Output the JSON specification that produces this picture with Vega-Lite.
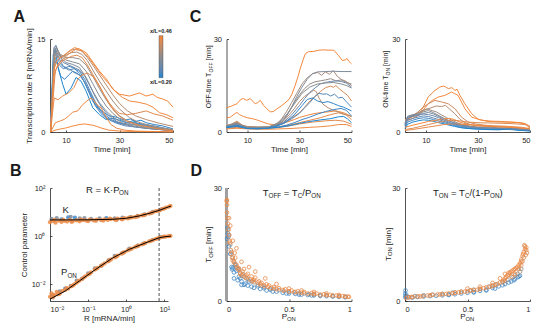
{
"$schema":"https://vega.github.io/schema/vega-lite/v6.json",
"padding":{"left":9,"top":8,"right":14,"bottom":8},
"config":{"font":"Liberation Sans","view":{"stroke":null},
"axis":{"grid":false,"domainColor":"#262626","domainWidth":0.8,"tickColor":"#262626","tickWidth":0.8,"tickSize":-2,"labelFontSize":7.5,"labelColor":"#262626","titleFontSize":8,"titleFontWeight":"normal","titleColor":"#262626"},
"axisX":{"labelPadding":6,"titlePadding":2},
"axisY":{"labelPadding":7,"titlePadding":3},
"text":{"color":"#1a1a1a"}},
"resolve":{"scale":{"color":"independent"},"legend":{"color":"independent"}},
"datasets":{
"A":[
{"s":"a1","c":0.2,"t":4.2,"v":0},{"s":"a1","c":0.2,"t":5.2,"v":12.5},{"s":"a1","c":0.2,"t":6,"v":13.2},{"s":"a1","c":0.2,"t":7,"v":10.4},{"s":"a1","c":0.2,"t":8.75,"v":7.7},{"s":"a1","c":0.2,"t":10,"v":6.1},{"s":"a1","c":0.2,"t":11.9,"v":7.1},{"s":"a1","c":0.2,"t":13.75,"v":8.8},{"s":"a1","c":0.2,"t":15.6,"v":8.2},{"s":"a1","c":0.2,"t":17.5,"v":6.6},{"s":"a1","c":0.2,"t":20,"v":3.9},{"s":"a1","c":0.2,"t":22.5,"v":2.8},{"s":"a1","c":0.2,"t":25,"v":2},{"s":"a1","c":0.2,"t":27.5,"v":2.2},{"s":"a1","c":0.2,"t":30,"v":1.9},{"s":"a1","c":0.2,"t":32.5,"v":1.5},{"s":"a1","c":0.2,"t":35,"v":1.8},{"s":"a1","c":0.2,"t":37.5,"v":1.2},{"s":"a1","c":0.2,"t":40,"v":1.1},{"s":"a1","c":0.2,"t":43.75,"v":0.7},{"s":"a1","c":0.2,"t":47,"v":0.5},{"s":"a1","c":0.2,"t":50,"v":0.3},
{"s":"a2","c":0.21,"t":4.2,"v":0},{"s":"a2","c":0.21,"t":5.3,"v":11},{"s":"a2","c":0.21,"t":6,"v":12},{"s":"a2","c":0.21,"t":7,"v":10.5},{"s":"a2","c":0.21,"t":8,"v":9},{"s":"a2","c":0.21,"t":9.5,"v":8.5},{"s":"a2","c":0.21,"t":11,"v":9.2},{"s":"a2","c":0.21,"t":12.5,"v":9.8},{"s":"a2","c":0.21,"t":14,"v":9.5},{"s":"a2","c":0.21,"t":16,"v":8.8},{"s":"a2","c":0.21,"t":18,"v":7},{"s":"a2","c":0.21,"t":20,"v":5},{"s":"a2","c":0.21,"t":22,"v":3.8},{"s":"a2","c":0.21,"t":24,"v":3.2},{"s":"a2","c":0.21,"t":26,"v":2.6},{"s":"a2","c":0.21,"t":28,"v":2.5},{"s":"a2","c":0.21,"t":30,"v":2.2},{"s":"a2","c":0.21,"t":32,"v":1.9},{"s":"a2","c":0.21,"t":34,"v":2.1},{"s":"a2","c":0.21,"t":36,"v":1.7},{"s":"a2","c":0.21,"t":38,"v":1.9},{"s":"a2","c":0.21,"t":40,"v":1.5},{"s":"a2","c":0.21,"t":43,"v":1.2},{"s":"a2","c":0.21,"t":46,"v":1},{"s":"a2","c":0.21,"t":50,"v":0.5},
{"s":"a3","c":0.22,"t":4.2,"v":0},{"s":"a3","c":0.22,"t":5.3,"v":10},{"s":"a3","c":0.22,"t":6.2,"v":11.5},{"s":"a3","c":0.22,"t":7.5,"v":10.8},{"s":"a3","c":0.22,"t":9,"v":10.2},{"s":"a3","c":0.22,"t":11,"v":10.6},{"s":"a3","c":0.22,"t":13,"v":10.3},{"s":"a3","c":0.22,"t":15,"v":9.4},{"s":"a3","c":0.22,"t":17,"v":8},{"s":"a3","c":0.22,"t":19,"v":6},{"s":"a3","c":0.22,"t":21,"v":4.2},{"s":"a3","c":0.22,"t":23,"v":3},{"s":"a3","c":0.22,"t":25,"v":2.2},{"s":"a3","c":0.22,"t":27,"v":1.8},{"s":"a3","c":0.22,"t":29,"v":1.5},{"s":"a3","c":0.22,"t":31,"v":1.3},{"s":"a3","c":0.22,"t":34,"v":1.6},{"s":"a3","c":0.22,"t":37,"v":1.4},{"s":"a3","c":0.22,"t":40,"v":1.2},{"s":"a3","c":0.22,"t":44,"v":0.9},{"s":"a3","c":0.22,"t":47,"v":0.6},{"s":"a3","c":0.22,"t":50,"v":0.3},
{"s":"a4","c":0.23,"t":4.2,"v":0},{"s":"a4","c":0.23,"t":5.4,"v":12},{"s":"a4","c":0.23,"t":6.2,"v":13},{"s":"a4","c":0.23,"t":7.5,"v":11.2},{"s":"a4","c":0.23,"t":9,"v":10.5},{"s":"a4","c":0.23,"t":11,"v":10},{"s":"a4","c":0.23,"t":13,"v":10.2},{"s":"a4","c":0.23,"t":15,"v":9.8},{"s":"a4","c":0.23,"t":17,"v":8.5},{"s":"a4","c":0.23,"t":19,"v":6.6},{"s":"a4","c":0.23,"t":21,"v":4.8},{"s":"a4","c":0.23,"t":23,"v":3.5},{"s":"a4","c":0.23,"t":25,"v":2.6},{"s":"a4","c":0.23,"t":27,"v":2},{"s":"a4","c":0.23,"t":29,"v":1.6},{"s":"a4","c":0.23,"t":32,"v":1.2},{"s":"a4","c":0.23,"t":35,"v":1.3},{"s":"a4","c":0.23,"t":38,"v":1},{"s":"a4","c":0.23,"t":42,"v":0.8},{"s":"a4","c":0.23,"t":46,"v":0.5},{"s":"a4","c":0.23,"t":50,"v":0.3},
{"s":"a5","c":0.25,"t":4.2,"v":0},{"s":"a5","c":0.25,"t":5.4,"v":13},{"s":"a5","c":0.25,"t":6.1,"v":13.5},{"s":"a5","c":0.25,"t":7.5,"v":11.8},{"s":"a5","c":0.25,"t":9,"v":10.6},{"s":"a5","c":0.25,"t":11,"v":10.2},{"s":"a5","c":0.25,"t":13,"v":9.6},{"s":"a5","c":0.25,"t":15,"v":9.2},{"s":"a5","c":0.25,"t":17,"v":8},{"s":"a5","c":0.25,"t":19,"v":6.3},{"s":"a5","c":0.25,"t":21,"v":4.6},{"s":"a5","c":0.25,"t":23,"v":3.3},{"s":"a5","c":0.25,"t":25,"v":2.4},{"s":"a5","c":0.25,"t":27,"v":1.8},{"s":"a5","c":0.25,"t":29,"v":1.4},{"s":"a5","c":0.25,"t":32,"v":1},{"s":"a5","c":0.25,"t":36,"v":0.8},{"s":"a5","c":0.25,"t":40,"v":0.6},{"s":"a5","c":0.25,"t":45,"v":0.4},{"s":"a5","c":0.25,"t":50,"v":0.2},
{"s":"a6","c":0.27,"t":4.2,"v":0},{"s":"a6","c":0.27,"t":5.5,"v":13.6},{"s":"a6","c":0.27,"t":6.2,"v":14},{"s":"a6","c":0.27,"t":7.5,"v":12.5},{"s":"a6","c":0.27,"t":9,"v":11.2},{"s":"a6","c":0.27,"t":11,"v":10.8},{"s":"a6","c":0.27,"t":13,"v":10.4},{"s":"a6","c":0.27,"t":15,"v":10},{"s":"a6","c":0.27,"t":17,"v":9},{"s":"a6","c":0.27,"t":19,"v":7.4},{"s":"a6","c":0.27,"t":21,"v":5.6},{"s":"a6","c":0.27,"t":23,"v":4.2},{"s":"a6","c":0.27,"t":25,"v":3.1},{"s":"a6","c":0.27,"t":27,"v":2.3},{"s":"a6","c":0.27,"t":29,"v":1.7},{"s":"a6","c":0.27,"t":32,"v":1.2},{"s":"a6","c":0.27,"t":36,"v":0.8},{"s":"a6","c":0.27,"t":40,"v":0.6},{"s":"a6","c":0.27,"t":45,"v":0.4},{"s":"a6","c":0.27,"t":50,"v":0.2},
{"s":"a7","c":0.3,"t":4.2,"v":0},{"s":"a7","c":0.3,"t":5.5,"v":13.5},{"s":"a7","c":0.3,"t":6.3,"v":13.8},{"s":"a7","c":0.3,"t":8,"v":12},{"s":"a7","c":0.3,"t":10,"v":11.2},{"s":"a7","c":0.3,"t":12.5,"v":10.9},{"s":"a7","c":0.3,"t":15,"v":10.4},{"s":"a7","c":0.3,"t":17.5,"v":8.8},{"s":"a7","c":0.3,"t":20,"v":6.6},{"s":"a7","c":0.3,"t":22.5,"v":4.7},{"s":"a7","c":0.3,"t":25,"v":3.4},{"s":"a7","c":0.3,"t":27.5,"v":2.4},{"s":"a7","c":0.3,"t":31,"v":1.5},{"s":"a7","c":0.3,"t":35,"v":1},{"s":"a7","c":0.3,"t":40,"v":0.6},{"s":"a7","c":0.3,"t":45,"v":0.4},{"s":"a7","c":0.3,"t":50,"v":0.3},
{"s":"a8","c":0.32,"t":4.2,"v":0},{"s":"a8","c":0.32,"t":5.6,"v":13},{"s":"a8","c":0.32,"t":6.4,"v":13.6},{"s":"a8","c":0.32,"t":8,"v":12.3},{"s":"a8","c":0.32,"t":10,"v":11.6},{"s":"a8","c":0.32,"t":12.5,"v":11.3},{"s":"a8","c":0.32,"t":15,"v":11},{"s":"a8","c":0.32,"t":17.5,"v":9.8},{"s":"a8","c":0.32,"t":20,"v":7.8},{"s":"a8","c":0.32,"t":22.5,"v":5.8},{"s":"a8","c":0.32,"t":25,"v":4.2},{"s":"a8","c":0.32,"t":27.5,"v":3},{"s":"a8","c":0.32,"t":30,"v":2.1},{"s":"a8","c":0.32,"t":34,"v":1.3},{"s":"a8","c":0.32,"t":38,"v":0.9},{"s":"a8","c":0.32,"t":44,"v":0.5},{"s":"a8","c":0.32,"t":50,"v":0.3},
{"s":"a9","c":0.34,"t":4.2,"v":0},{"s":"a9","c":0.34,"t":5.6,"v":12.5},{"s":"a9","c":0.34,"t":6.5,"v":13.2},{"s":"a9","c":0.34,"t":8,"v":12.5},{"s":"a9","c":0.34,"t":10,"v":12},{"s":"a9","c":0.34,"t":12.5,"v":12},{"s":"a9","c":0.34,"t":15,"v":11.8},{"s":"a9","c":0.34,"t":17.5,"v":10.8},{"s":"a9","c":0.34,"t":20,"v":9},{"s":"a9","c":0.34,"t":22.5,"v":7},{"s":"a9","c":0.34,"t":25,"v":5.2},{"s":"a9","c":0.34,"t":27.5,"v":3.7},{"s":"a9","c":0.34,"t":30,"v":2.6},{"s":"a9","c":0.34,"t":33,"v":1.8},{"s":"a9","c":0.34,"t":37,"v":1.2},{"s":"a9","c":0.34,"t":42,"v":0.8},{"s":"a9","c":0.34,"t":46,"v":0.5},{"s":"a9","c":0.34,"t":50,"v":0.3},
{"s":"a10","c":0.36,"t":4.2,"v":0},{"s":"a10","c":0.36,"t":5.7,"v":12},{"s":"a10","c":0.36,"t":6.5,"v":12.8},{"s":"a10","c":0.36,"t":8,"v":12.2},{"s":"a10","c":0.36,"t":10,"v":12.4},{"s":"a10","c":0.36,"t":12,"v":12.8},{"s":"a10","c":0.36,"t":14,"v":12.9},{"s":"a10","c":0.36,"t":16,"v":12.5},{"s":"a10","c":0.36,"t":18,"v":11.5},{"s":"a10","c":0.36,"t":20,"v":10},{"s":"a10","c":0.36,"t":22.5,"v":8.2},{"s":"a10","c":0.36,"t":25,"v":6.6},{"s":"a10","c":0.36,"t":27.5,"v":5},{"s":"a10","c":0.36,"t":30,"v":3.7},{"s":"a10","c":0.36,"t":33.75,"v":2.3},{"s":"a10","c":0.36,"t":37,"v":1.6},{"s":"a10","c":0.36,"t":40,"v":1.2},{"s":"a10","c":0.36,"t":45,"v":0.7},{"s":"a10","c":0.36,"t":50,"v":0.4},
{"s":"a11","c":0.38,"t":4.2,"v":0},{"s":"a11","c":0.38,"t":5.7,"v":11.5},{"s":"a11","c":0.38,"t":6.5,"v":12.3},{"s":"a11","c":0.38,"t":8,"v":12},{"s":"a11","c":0.38,"t":10,"v":12.6},{"s":"a11","c":0.38,"t":12,"v":13.2},{"s":"a11","c":0.38,"t":14,"v":13.4},{"s":"a11","c":0.38,"t":16,"v":13},{"s":"a11","c":0.38,"t":18,"v":12},{"s":"a11","c":0.38,"t":20,"v":10.8},{"s":"a11","c":0.38,"t":22.5,"v":9.2},{"s":"a11","c":0.38,"t":25,"v":7.6},{"s":"a11","c":0.38,"t":27.5,"v":6},{"s":"a11","c":0.38,"t":30,"v":4.6},{"s":"a11","c":0.38,"t":33,"v":3.4},{"s":"a11","c":0.38,"t":36,"v":2.6},{"s":"a11","c":0.38,"t":40,"v":2},{"s":"a11","c":0.38,"t":45,"v":1.4},{"s":"a11","c":0.38,"t":50,"v":0.9},
{"s":"a12","c":0.46,"t":4.2,"v":0},{"s":"a12","c":0.46,"t":5.5,"v":10},{"s":"a12","c":0.46,"t":6.5,"v":11.5},{"s":"a12","c":0.46,"t":8.75,"v":12.2},{"s":"a12","c":0.46,"t":11,"v":13},{"s":"a12","c":0.46,"t":13.1,"v":13.6},{"s":"a12","c":0.46,"t":15,"v":13.4},{"s":"a12","c":0.46,"t":17.5,"v":12.8},{"s":"a12","c":0.46,"t":20,"v":11.3},{"s":"a12","c":0.46,"t":22.5,"v":9.8},{"s":"a12","c":0.46,"t":25,"v":8.6},{"s":"a12","c":0.46,"t":27.5,"v":6.9},{"s":"a12","c":0.46,"t":30,"v":6.1},{"s":"a12","c":0.46,"t":33.75,"v":5.8},{"s":"a12","c":0.46,"t":37.5,"v":6.3},{"s":"a12","c":0.46,"t":40,"v":5.8},{"s":"a12","c":0.46,"t":42.5,"v":6.1},{"s":"a12","c":0.46,"t":44,"v":5.6},{"s":"a12","c":0.46,"t":46.25,"v":5.3},{"s":"a12","c":0.46,"t":48,"v":5},{"s":"a12","c":0.46,"t":50,"v":4},
{"s":"a13","c":0.45,"t":4.2,"v":0},{"s":"a13","c":0.45,"t":5.5,"v":9},{"s":"a13","c":0.45,"t":7,"v":11},{"s":"a13","c":0.45,"t":9,"v":11.8},{"s":"a13","c":0.45,"t":11,"v":12.6},{"s":"a13","c":0.45,"t":13.5,"v":13.3},{"s":"a13","c":0.45,"t":16,"v":13.1},{"s":"a13","c":0.45,"t":18.5,"v":12},{"s":"a13","c":0.45,"t":21,"v":10.5},{"s":"a13","c":0.45,"t":23.5,"v":9},{"s":"a13","c":0.45,"t":26,"v":7.8},{"s":"a13","c":0.45,"t":28.5,"v":6.5},{"s":"a13","c":0.45,"t":31,"v":5.6},{"s":"a13","c":0.45,"t":33.75,"v":5},{"s":"a13","c":0.45,"t":37,"v":4.8},{"s":"a13","c":0.45,"t":40,"v":4.5},{"s":"a13","c":0.45,"t":42.5,"v":4},{"s":"a13","c":0.45,"t":45,"v":3.1},{"s":"a13","c":0.45,"t":47.5,"v":2.8},{"s":"a13","c":0.45,"t":50,"v":2.3},
{"s":"a14","c":0.43,"t":4.2,"v":0},{"s":"a14","c":0.43,"t":6,"v":10},{"s":"a14","c":0.43,"t":8,"v":11.2},{"s":"a14","c":0.43,"t":10,"v":11.8},{"s":"a14","c":0.43,"t":12,"v":12.2},{"s":"a14","c":0.43,"t":14,"v":12.4},{"s":"a14","c":0.43,"t":16,"v":12},{"s":"a14","c":0.43,"t":18,"v":10.8},{"s":"a14","c":0.43,"t":20,"v":9.3},{"s":"a14","c":0.43,"t":22,"v":7.8},{"s":"a14","c":0.43,"t":24,"v":6.2},{"s":"a14","c":0.43,"t":26,"v":4.8},{"s":"a14","c":0.43,"t":28,"v":3.7},{"s":"a14","c":0.43,"t":30,"v":3},{"s":"a14","c":0.43,"t":33,"v":2.8},{"s":"a14","c":0.43,"t":36,"v":3},{"s":"a14","c":0.43,"t":40,"v":3.4},{"s":"a14","c":0.43,"t":43,"v":2.9},{"s":"a14","c":0.43,"t":46,"v":2.6},{"s":"a14","c":0.43,"t":50,"v":1.9},
{"s":"a15","c":0.44,"t":4.2,"v":0},{"s":"a15","c":0.44,"t":5.3,"v":4.5},{"s":"a15","c":0.44,"t":5.6,"v":5.5},{"s":"a15","c":0.44,"t":7,"v":5.2},{"s":"a15","c":0.44,"t":8.75,"v":5.8},{"s":"a15","c":0.44,"t":11,"v":6.3},{"s":"a15","c":0.44,"t":13,"v":7.2},{"s":"a15","c":0.44,"t":14.4,"v":8.5},{"s":"a15","c":0.44,"t":16,"v":9.2},{"s":"a15","c":0.44,"t":18,"v":9.5},{"s":"a15","c":0.44,"t":20,"v":9},{"s":"a15","c":0.44,"t":22,"v":7.8},{"s":"a15","c":0.44,"t":24,"v":6.2},{"s":"a15","c":0.44,"t":26,"v":4.6},{"s":"a15","c":0.44,"t":28,"v":3.4},{"s":"a15","c":0.44,"t":30,"v":2.5},{"s":"a15","c":0.44,"t":33,"v":1.7},{"s":"a15","c":0.44,"t":37,"v":1.1},{"s":"a15","c":0.44,"t":42,"v":0.7},{"s":"a15","c":0.44,"t":46,"v":0.4},{"s":"a15","c":0.44,"t":50,"v":0.2},
{"s":"a16","c":0.45,"t":4.2,"v":0},{"s":"a16","c":0.45,"t":6,"v":1.5},{"s":"a16","c":0.45,"t":8,"v":1.8},{"s":"a16","c":0.45,"t":9.4,"v":2.05},{"s":"a16","c":0.45,"t":11,"v":2.6},{"s":"a16","c":0.45,"t":12.5,"v":3.2},{"s":"a16","c":0.45,"t":14.4,"v":3.4},{"s":"a16","c":0.45,"t":16,"v":4.3},{"s":"a16","c":0.45,"t":17.5,"v":4.9},{"s":"a16","c":0.45,"t":19.4,"v":5.5},{"s":"a16","c":0.45,"t":20.5,"v":5},{"s":"a16","c":0.45,"t":22,"v":4.2},{"s":"a16","c":0.45,"t":23.1,"v":3.9},{"s":"a16","c":0.45,"t":25,"v":2.4},{"s":"a16","c":0.45,"t":26.8,"v":1.2},{"s":"a16","c":0.45,"t":29,"v":0.6},{"s":"a16","c":0.45,"t":32,"v":0.3},{"s":"a16","c":0.45,"t":36,"v":0.15},{"s":"a16","c":0.45,"t":40,"v":0.1},{"s":"a16","c":0.45,"t":50,"v":0.05},
{"s":"a17","c":0.46,"t":4.2,"v":0},{"s":"a17","c":0.46,"t":6,"v":0.3},{"s":"a17","c":0.46,"t":8,"v":0.5},{"s":"a17","c":0.46,"t":9.9,"v":0.65},{"s":"a17","c":0.46,"t":12,"v":0.9},{"s":"a17","c":0.46,"t":14.9,"v":1.2},{"s":"a17","c":0.46,"t":17,"v":1.3},{"s":"a17","c":0.46,"t":19.9,"v":1.1},{"s":"a17","c":0.46,"t":21.5,"v":0.9},{"s":"a17","c":0.46,"t":23.1,"v":0.65},{"s":"a17","c":0.46,"t":26,"v":0.3},{"s":"a17","c":0.46,"t":30,"v":0.15},{"s":"a17","c":0.46,"t":35,"v":0.08},{"s":"a17","c":0.46,"t":50,"v":0.03}
],
"C1":[
{"s":"c1","c":0.46,"t":2,"v":7.8},{"s":"c1","c":0.46,"t":4,"v":8.4},{"s":"c1","c":0.46,"t":6,"v":9.1},{"s":"c1","c":0.46,"t":7.5,"v":10.5},{"s":"c1","c":0.46,"t":8.5,"v":10.8},{"s":"c1","c":0.46,"t":9.8,"v":10.2},{"s":"c1","c":0.46,"t":11.1,"v":10.8},{"s":"c1","c":0.46,"t":12,"v":10},{"s":"c1","c":0.46,"t":13,"v":9.1},{"s":"c1","c":0.46,"t":14,"v":9.5},{"s":"c1","c":0.46,"t":15,"v":10.2},{"s":"c1","c":0.46,"t":16.2,"v":8.6},{"s":"c1","c":0.46,"t":17.5,"v":7.5},{"s":"c1","c":0.46,"t":18.8,"v":6.5},{"s":"c1","c":0.46,"t":20,"v":6.6},{"s":"c1","c":0.46,"t":21.4,"v":7.5},{"s":"c1","c":0.46,"t":23,"v":8.4},{"s":"c1","c":0.46,"t":24.5,"v":9.4},{"s":"c1","c":0.46,"t":26,"v":10.5},{"s":"c1","c":0.46,"t":27,"v":12},{"s":"c1","c":0.46,"t":28.4,"v":15.1},{"s":"c1","c":0.46,"t":29.5,"v":18},{"s":"c1","c":0.46,"t":30.3,"v":20.4},{"s":"c1","c":0.46,"t":31.5,"v":23.5},{"s":"c1","c":0.46,"t":32.3,"v":25.3},{"s":"c1","c":0.46,"t":33.5,"v":25.9},{"s":"c1","c":0.46,"t":35.5,"v":26},{"s":"c1","c":0.46,"t":37.5,"v":26.4},{"s":"c1","c":0.46,"t":39.3,"v":26.5},{"s":"c1","c":0.46,"t":41,"v":26.4},{"s":"c1","c":0.46,"t":43.2,"v":26.4},{"s":"c1","c":0.46,"t":45,"v":24.7},{"s":"c1","c":0.46,"t":46.4,"v":23.1},{"s":"c1","c":0.46,"t":47.5,"v":23.2},{"s":"c1","c":0.46,"t":48.3,"v":23.7},{"s":"c1","c":0.46,"t":49,"v":22.8},{"s":"c1","c":0.46,"t":50,"v":22},
{"s":"c2","c":0.45,"t":2,"v":4.5},{"s":"c2","c":0.45,"t":3.5,"v":4.8},{"s":"c2","c":0.45,"t":5,"v":5.8},{"s":"c2","c":0.45,"t":6,"v":6.3},{"s":"c2","c":0.45,"t":7,"v":5.6},{"s":"c2","c":0.45,"t":8.5,"v":5},{"s":"c2","c":0.45,"t":10,"v":4.6},{"s":"c2","c":0.45,"t":12,"v":4.3},{"s":"c2","c":0.45,"t":14,"v":3.8},{"s":"c2","c":0.45,"t":16,"v":3.2},{"s":"c2","c":0.45,"t":18,"v":2.6},{"s":"c2","c":0.45,"t":20,"v":2.4},{"s":"c2","c":0.45,"t":22,"v":2.5},{"s":"c2","c":0.45,"t":24,"v":2.9},{"s":"c2","c":0.45,"t":26,"v":3.4},{"s":"c2","c":0.45,"t":28,"v":4},{"s":"c2","c":0.45,"t":30,"v":4.7},{"s":"c2","c":0.45,"t":33,"v":5.4},{"s":"c2","c":0.45,"t":36,"v":6},{"s":"c2","c":0.45,"t":40,"v":6.4},{"s":"c2","c":0.45,"t":44,"v":6.8},{"s":"c2","c":0.45,"t":47,"v":6.2},{"s":"c2","c":0.45,"t":50,"v":5},
{"s":"c3","c":0.44,"t":2,"v":1.5},{"s":"c3","c":0.44,"t":4,"v":1.9},{"s":"c3","c":0.44,"t":6,"v":2.4},{"s":"c3","c":0.44,"t":8,"v":1.8},{"s":"c3","c":0.44,"t":10,"v":1.4},{"s":"c3","c":0.44,"t":14,"v":1.3},{"s":"c3","c":0.44,"t":18,"v":1.4},{"s":"c3","c":0.44,"t":22,"v":1.7},{"s":"c3","c":0.44,"t":26,"v":2.2},{"s":"c3","c":0.44,"t":30,"v":3},{"s":"c3","c":0.44,"t":34,"v":3.8},{"s":"c3","c":0.44,"t":38,"v":4.6},{"s":"c3","c":0.44,"t":42,"v":5.6},{"s":"c3","c":0.44,"t":45,"v":6.2},{"s":"c3","c":0.44,"t":48,"v":5.5},{"s":"c3","c":0.44,"t":50,"v":4},
{"s":"c4","c":0.42,"t":2,"v":2},{"s":"c4","c":0.42,"t":4,"v":2.5},{"s":"c4","c":0.42,"t":6,"v":3.5},{"s":"c4","c":0.42,"t":8,"v":2.2},{"s":"c4","c":0.42,"t":10,"v":1.8},{"s":"c4","c":0.42,"t":14,"v":1.6},{"s":"c4","c":0.42,"t":18,"v":1.6},{"s":"c4","c":0.42,"t":21,"v":2},{"s":"c4","c":0.42,"t":24,"v":3},{"s":"c4","c":0.42,"t":27,"v":4.5},{"s":"c4","c":0.42,"t":30,"v":6.2},{"s":"c4","c":0.42,"t":32,"v":8},{"s":"c4","c":0.42,"t":34,"v":10},{"s":"c4","c":0.42,"t":36,"v":11.5},{"s":"c4","c":0.42,"t":38,"v":13},{"s":"c4","c":0.42,"t":40,"v":14.3},{"s":"c4","c":0.42,"t":42,"v":14.8},{"s":"c4","c":0.42,"t":43,"v":14.4},{"s":"c4","c":0.42,"t":44,"v":15},{"s":"c4","c":0.42,"t":45.5,"v":13.8},{"s":"c4","c":0.42,"t":47,"v":12.8},{"s":"c4","c":0.42,"t":48.5,"v":11.8},{"s":"c4","c":0.42,"t":50,"v":10},
{"s":"c5","c":0.45,"t":2,"v":1},{"s":"c5","c":0.45,"t":6,"v":1.2},{"s":"c5","c":0.45,"t":10,"v":1},{"s":"c5","c":0.45,"t":14,"v":0.9},{"s":"c5","c":0.45,"t":18,"v":0.9},{"s":"c5","c":0.45,"t":22,"v":1},{"s":"c5","c":0.45,"t":26,"v":1.1},{"s":"c5","c":0.45,"t":30,"v":1.3},{"s":"c5","c":0.45,"t":34,"v":1.5},{"s":"c5","c":0.45,"t":38,"v":1.7},{"s":"c5","c":0.45,"t":42,"v":2},{"s":"c5","c":0.45,"t":45,"v":2.4},{"s":"c5","c":0.45,"t":48,"v":2.4},{"s":"c5","c":0.45,"t":50,"v":1.8},
{"s":"c6","c":0.43,"t":2,"v":1.2},{"s":"c6","c":0.43,"t":6,"v":1.5},{"s":"c6","c":0.43,"t":10,"v":1.2},{"s":"c6","c":0.43,"t":15,"v":1.1},{"s":"c6","c":0.43,"t":20,"v":1.3},{"s":"c6","c":0.43,"t":25,"v":1.8},{"s":"c6","c":0.43,"t":30,"v":2.6},{"s":"c6","c":0.43,"t":35,"v":3.2},{"s":"c6","c":0.43,"t":40,"v":3.6},{"s":"c6","c":0.43,"t":44,"v":3.8},{"s":"c6","c":0.43,"t":47,"v":3.5},{"s":"c6","c":0.43,"t":50,"v":2.5},
{"s":"c7","c":0.38,"t":2,"v":2},{"s":"c7","c":0.38,"t":4,"v":2.5},{"s":"c7","c":0.38,"t":6,"v":3},{"s":"c7","c":0.38,"t":8,"v":2},{"s":"c7","c":0.38,"t":10,"v":1.6},{"s":"c7","c":0.38,"t":14,"v":1.5},{"s":"c7","c":0.38,"t":18,"v":1.6},{"s":"c7","c":0.38,"t":21,"v":2.2},{"s":"c7","c":0.38,"t":24,"v":3.6},{"s":"c7","c":0.38,"t":26,"v":5.5},{"s":"c7","c":0.38,"t":28,"v":7.5},{"s":"c7","c":0.38,"t":30,"v":9.8},{"s":"c7","c":0.38,"t":32,"v":11.5},{"s":"c7","c":0.38,"t":34,"v":12.6},{"s":"c7","c":0.38,"t":35.5,"v":13.5},{"s":"c7","c":0.38,"t":36.5,"v":13},{"s":"c7","c":0.38,"t":37.5,"v":11},{"s":"c7","c":0.38,"t":39,"v":9},{"s":"c7","c":0.38,"t":41,"v":7.8},{"s":"c7","c":0.38,"t":43,"v":7},{"s":"c7","c":0.38,"t":45,"v":6.4},{"s":"c7","c":0.38,"t":47,"v":5.8},{"s":"c7","c":0.38,"t":50,"v":5},
{"s":"c8","c":0.36,"t":2,"v":2},{"s":"c8","c":0.36,"t":4,"v":2.6},{"s":"c8","c":0.36,"t":6,"v":3.2},{"s":"c8","c":0.36,"t":8,"v":2.2},{"s":"c8","c":0.36,"t":10,"v":1.6},{"s":"c8","c":0.36,"t":14,"v":1.5},{"s":"c8","c":0.36,"t":18,"v":1.6},{"s":"c8","c":0.36,"t":21,"v":2.5},{"s":"c8","c":0.36,"t":23,"v":4},{"s":"c8","c":0.36,"t":25,"v":6.5},{"s":"c8","c":0.36,"t":27,"v":9.5},{"s":"c8","c":0.36,"t":29,"v":12.5},{"s":"c8","c":0.36,"t":31,"v":15.5},{"s":"c8","c":0.36,"t":33,"v":17.5},{"s":"c8","c":0.36,"t":35,"v":18.8},{"s":"c8","c":0.36,"t":37,"v":19.2},{"s":"c8","c":0.36,"t":38.5,"v":18.3},{"s":"c8","c":0.36,"t":40,"v":19.4},{"s":"c8","c":0.36,"t":41.5,"v":18.6},{"s":"c8","c":0.36,"t":43,"v":19.8},{"s":"c8","c":0.36,"t":44.5,"v":18},{"s":"c8","c":0.36,"t":46,"v":17},{"s":"c8","c":0.36,"t":48,"v":16.3},{"s":"c8","c":0.36,"t":50,"v":15},
{"s":"c9","c":0.34,"t":2,"v":1.8},{"s":"c9","c":0.34,"t":4,"v":2.3},{"s":"c9","c":0.34,"t":6,"v":2.8},{"s":"c9","c":0.34,"t":8,"v":2},{"s":"c9","c":0.34,"t":10,"v":1.5},{"s":"c9","c":0.34,"t":14,"v":1.4},{"s":"c9","c":0.34,"t":18,"v":1.5},{"s":"c9","c":0.34,"t":21,"v":2.2},{"s":"c9","c":0.34,"t":24,"v":4.2},{"s":"c9","c":0.34,"t":26,"v":6.5},{"s":"c9","c":0.34,"t":28,"v":9.5},{"s":"c9","c":0.34,"t":30,"v":12},{"s":"c9","c":0.34,"t":32,"v":14},{"s":"c9","c":0.34,"t":34,"v":15.5},{"s":"c9","c":0.34,"t":36,"v":16.2},{"s":"c9","c":0.34,"t":38,"v":16.5},{"s":"c9","c":0.34,"t":40,"v":16.8},{"s":"c9","c":0.34,"t":42,"v":17.2},{"s":"c9","c":0.34,"t":44,"v":16.5},{"s":"c9","c":0.34,"t":46,"v":16.8},{"s":"c9","c":0.34,"t":48,"v":16},{"s":"c9","c":0.34,"t":50,"v":15.5},
{"s":"c10","c":0.3,"t":2,"v":1.8},{"s":"c10","c":0.3,"t":4,"v":2.2},{"s":"c10","c":0.3,"t":6,"v":2.5},{"s":"c10","c":0.3,"t":8,"v":1.8},{"s":"c10","c":0.3,"t":10,"v":1.4},{"s":"c10","c":0.3,"t":14,"v":1.3},{"s":"c10","c":0.3,"t":18,"v":1.4},{"s":"c10","c":0.3,"t":21,"v":2},{"s":"c10","c":0.3,"t":23,"v":3},{"s":"c10","c":0.3,"t":25,"v":5},{"s":"c10","c":0.3,"t":27,"v":8},{"s":"c10","c":0.3,"t":29,"v":11.5},{"s":"c10","c":0.3,"t":31,"v":14.5},{"s":"c10","c":0.3,"t":33,"v":17},{"s":"c10","c":0.3,"t":35,"v":18.8},{"s":"c10","c":0.3,"t":37,"v":19.4},{"s":"c10","c":0.3,"t":40,"v":19.5},{"s":"c10","c":0.3,"t":43,"v":19.6},{"s":"c10","c":0.3,"t":46,"v":19.5},{"s":"c10","c":0.3,"t":50,"v":19.5},
{"s":"c11","c":0.27,"t":2,"v":1.6},{"s":"c11","c":0.27,"t":6,"v":2.3},{"s":"c11","c":0.27,"t":10,"v":1.3},{"s":"c11","c":0.27,"t":14,"v":1.2},{"s":"c11","c":0.27,"t":18,"v":1.4},{"s":"c11","c":0.27,"t":21,"v":2},{"s":"c11","c":0.27,"t":24,"v":3.2},{"s":"c11","c":0.27,"t":27,"v":5.5},{"s":"c11","c":0.27,"t":30,"v":8.5},{"s":"c11","c":0.27,"t":32,"v":10.8},{"s":"c11","c":0.27,"t":34,"v":12.8},{"s":"c11","c":0.27,"t":36,"v":14.2},{"s":"c11","c":0.27,"t":38,"v":15.5},{"s":"c11","c":0.27,"t":40,"v":16},{"s":"c11","c":0.27,"t":42,"v":16.3},{"s":"c11","c":0.27,"t":44,"v":16.5},{"s":"c11","c":0.27,"t":46,"v":16.3},{"s":"c11","c":0.27,"t":48,"v":15.8},{"s":"c11","c":0.27,"t":50,"v":14.5},
{"s":"c12","c":0.24,"t":2,"v":1.5},{"s":"c12","c":0.24,"t":6,"v":2.1},{"s":"c12","c":0.24,"t":10,"v":1.2},{"s":"c12","c":0.24,"t":14,"v":1.1},{"s":"c12","c":0.24,"t":18,"v":1.3},{"s":"c12","c":0.24,"t":21,"v":1.8},{"s":"c12","c":0.24,"t":24,"v":2.8},{"s":"c12","c":0.24,"t":27,"v":4.2},{"s":"c12","c":0.24,"t":30,"v":6},{"s":"c12","c":0.24,"t":32,"v":7.8},{"s":"c12","c":0.24,"t":34,"v":9.5},{"s":"c12","c":0.24,"t":36,"v":11.5},{"s":"c12","c":0.24,"t":37.5,"v":12.5},{"s":"c12","c":0.24,"t":39,"v":12.2},{"s":"c12","c":0.24,"t":40.5,"v":12.3},{"s":"c12","c":0.24,"t":42,"v":11.6},{"s":"c12","c":0.24,"t":43.5,"v":12.2},{"s":"c12","c":0.24,"t":45,"v":11},{"s":"c12","c":0.24,"t":46.5,"v":11.2},{"s":"c12","c":0.24,"t":48,"v":9.8},{"s":"c12","c":0.24,"t":50,"v":8},
{"s":"c13","c":0.22,"t":2,"v":1.5},{"s":"c13","c":0.22,"t":6,"v":2},{"s":"c13","c":0.22,"t":10,"v":1.2},{"s":"c13","c":0.22,"t":14,"v":1.1},{"s":"c13","c":0.22,"t":18,"v":1.3},{"s":"c13","c":0.22,"t":22,"v":1.6},{"s":"c13","c":0.22,"t":25,"v":2.2},{"s":"c13","c":0.22,"t":28,"v":3},{"s":"c13","c":0.22,"t":31,"v":4},{"s":"c13","c":0.22,"t":34,"v":4.8},{"s":"c13","c":0.22,"t":37,"v":5.8},{"s":"c13","c":0.22,"t":40,"v":6.6},{"s":"c13","c":0.22,"t":43,"v":7.2},{"s":"c13","c":0.22,"t":46,"v":7.6},{"s":"c13","c":0.22,"t":48,"v":7},{"s":"c13","c":0.22,"t":50,"v":5.2},
{"s":"c14","c":0.2,"t":2,"v":1.4},{"s":"c14","c":0.2,"t":6,"v":1.8},{"s":"c14","c":0.2,"t":10,"v":1.1},{"s":"c14","c":0.2,"t":14,"v":1},{"s":"c14","c":0.2,"t":18,"v":1.2},{"s":"c14","c":0.2,"t":22,"v":1.5},{"s":"c14","c":0.2,"t":26,"v":2},{"s":"c14","c":0.2,"t":30,"v":2.8},{"s":"c14","c":0.2,"t":34,"v":3.4},{"s":"c14","c":0.2,"t":38,"v":3.9},{"s":"c14","c":0.2,"t":42,"v":4.3},{"s":"c14","c":0.2,"t":45,"v":4.9},{"s":"c14","c":0.2,"t":47,"v":5},{"s":"c14","c":0.2,"t":48.5,"v":4.2},{"s":"c14","c":0.2,"t":50,"v":3},
{"s":"c15","c":0.21,"t":2,"v":1.6},{"s":"c15","c":0.21,"t":6,"v":2},{"s":"c15","c":0.21,"t":10,"v":1.3},{"s":"c15","c":0.21,"t":15,"v":1.2},{"s":"c15","c":0.21,"t":20,"v":1.6},{"s":"c15","c":0.21,"t":24,"v":2.8},{"s":"c15","c":0.21,"t":28,"v":5.5},{"s":"c15","c":0.21,"t":31,"v":8.5},{"s":"c15","c":0.21,"t":33,"v":10.5},{"s":"c15","c":0.21,"t":35,"v":11},{"s":"c15","c":0.21,"t":37,"v":10},{"s":"c15","c":0.21,"t":39,"v":9.5},{"s":"c15","c":0.21,"t":41,"v":9.8},{"s":"c15","c":0.21,"t":43,"v":9.2},{"s":"c15","c":0.21,"t":45,"v":8.5},{"s":"c15","c":0.21,"t":47,"v":8},{"s":"c15","c":0.21,"t":50,"v":6.8},
{"s":"c16","c":0.32,"t":2,"v":2},{"s":"c16","c":0.32,"t":6,"v":2.8},{"s":"c16","c":0.32,"t":10,"v":1.5},{"s":"c16","c":0.32,"t":18,"v":1.6},{"s":"c16","c":0.32,"t":22,"v":3},{"s":"c16","c":0.32,"t":25,"v":5.5},{"s":"c16","c":0.32,"t":28,"v":9},{"s":"c16","c":0.32,"t":31,"v":12.5},{"s":"c16","c":0.32,"t":34,"v":14.5},{"s":"c16","c":0.32,"t":37,"v":15.5},{"s":"c16","c":0.32,"t":40,"v":15.8},{"s":"c16","c":0.32,"t":43,"v":16},{"s":"c16","c":0.32,"t":46,"v":15.5},{"s":"c16","c":0.32,"t":48,"v":15},{"s":"c16","c":0.32,"t":50,"v":14.2}
],
"C2":[
{"s":"r1","c":0.45,"t":2,"v":4},{"s":"r1","c":0.45,"t":3.2,"v":4.3},{"s":"r1","c":0.45,"t":5,"v":5},{"s":"r1","c":0.45,"t":7.1,"v":5.4},{"s":"r1","c":0.45,"t":9,"v":8},{"s":"r1","c":0.45,"t":10.9,"v":11.3},{"s":"r1","c":0.45,"t":12,"v":12.2},{"s":"r1","c":0.45,"t":13.5,"v":13.4},{"s":"r1","c":0.45,"t":15.4,"v":14.5},{"s":"r1","c":0.45,"t":16.7,"v":14.8},{"s":"r1","c":0.45,"t":17.5,"v":14.6},{"s":"r1","c":0.45,"t":18.6,"v":14},{"s":"r1","c":0.45,"t":20,"v":14.3},{"s":"r1","c":0.45,"t":21.2,"v":13.4},{"s":"r1","c":0.45,"t":22,"v":13.8},{"s":"r1","c":0.45,"t":23.1,"v":11.8},{"s":"r1","c":0.45,"t":25,"v":9.1},{"s":"r1","c":0.45,"t":27.6,"v":5.9},{"s":"r1","c":0.45,"t":30.1,"v":4.1},{"s":"r1","c":0.45,"t":34,"v":3.4},{"s":"r1","c":0.45,"t":39.1,"v":3.2},{"s":"r1","c":0.45,"t":43,"v":3.2},{"s":"r1","c":0.45,"t":46.8,"v":3},{"s":"r1","c":0.45,"t":48.5,"v":2.6},{"s":"r1","c":0.45,"t":50,"v":1.6},
{"s":"r2","c":0.46,"t":2,"v":3.5},{"s":"r2","c":0.46,"t":4,"v":4},{"s":"r2","c":0.46,"t":6,"v":4.8},{"s":"r2","c":0.46,"t":8,"v":6},{"s":"r2","c":0.46,"t":10.9,"v":9.1},{"s":"r2","c":0.46,"t":12.5,"v":10.2},{"s":"r2","c":0.46,"t":14.8,"v":11.3},{"s":"r2","c":0.46,"t":17.3,"v":11.8},{"s":"r2","c":0.46,"t":19.9,"v":12.9},{"s":"r2","c":0.46,"t":21,"v":12.4},{"s":"r2","c":0.46,"t":22.4,"v":11.8},{"s":"r2","c":0.46,"t":23.5,"v":10},{"s":"r2","c":0.46,"t":25,"v":7.5},{"s":"r2","c":0.46,"t":27.6,"v":4.8},{"s":"r2","c":0.46,"t":31.4,"v":3.8},{"s":"r2","c":0.46,"t":35,"v":3.5},{"s":"r2","c":0.46,"t":39,"v":3.4},{"s":"r2","c":0.46,"t":45.5,"v":3},{"s":"r2","c":0.46,"t":48,"v":2.6},{"s":"r2","c":0.46,"t":50,"v":1.3},
{"s":"r3","c":0.41,"t":2,"v":3.5},{"s":"r3","c":0.41,"t":4,"v":4.5},{"s":"r3","c":0.41,"t":7,"v":6.5},{"s":"r3","c":0.41,"t":9,"v":8},{"s":"r3","c":0.41,"t":10.9,"v":9.1},{"s":"r3","c":0.41,"t":13.5,"v":10.2},{"s":"r3","c":0.41,"t":16,"v":9.7},{"s":"r3","c":0.41,"t":18.6,"v":9.1},{"s":"r3","c":0.41,"t":21.2,"v":7.5},{"s":"r3","c":0.41,"t":23.7,"v":4.8},{"s":"r3","c":0.41,"t":26.3,"v":3.2},{"s":"r3","c":0.41,"t":29,"v":2.6},{"s":"r3","c":0.41,"t":32.7,"v":2.2},{"s":"r3","c":0.41,"t":39.1,"v":1.6},{"s":"r3","c":0.41,"t":45,"v":1.3},{"s":"r3","c":0.41,"t":50,"v":0.9},
{"s":"r4","c":0.38,"t":2,"v":3},{"s":"r4","c":0.38,"t":4,"v":5},{"s":"r4","c":0.38,"t":6,"v":5.8},{"s":"r4","c":0.38,"t":8,"v":6.5},{"s":"r4","c":0.38,"t":10,"v":7.2},{"s":"r4","c":0.38,"t":12,"v":7.8},{"s":"r4","c":0.38,"t":14,"v":8.4},{"s":"r4","c":0.38,"t":16,"v":8.2},{"s":"r4","c":0.38,"t":17.5,"v":8.6},{"s":"r4","c":0.38,"t":19,"v":7.5},{"s":"r4","c":0.38,"t":21,"v":6},{"s":"r4","c":0.38,"t":23,"v":4.2},{"s":"r4","c":0.38,"t":25,"v":3},{"s":"r4","c":0.38,"t":28,"v":2.2},{"s":"r4","c":0.38,"t":32,"v":1.9},{"s":"r4","c":0.38,"t":38,"v":1.7},{"s":"r4","c":0.38,"t":44,"v":1.5},{"s":"r4","c":0.38,"t":50,"v":1},
{"s":"r5","c":0.35,"t":2,"v":3},{"s":"r5","c":0.35,"t":3,"v":5},{"s":"r5","c":0.35,"t":5,"v":5.5},{"s":"r5","c":0.35,"t":7,"v":6.2},{"s":"r5","c":0.35,"t":9,"v":7},{"s":"r5","c":0.35,"t":10.5,"v":7.5},{"s":"r5","c":0.35,"t":12,"v":7},{"s":"r5","c":0.35,"t":14,"v":6.5},{"s":"r5","c":0.35,"t":16,"v":5.5},{"s":"r5","c":0.35,"t":18,"v":4.6},{"s":"r5","c":0.35,"t":20,"v":3.8},{"s":"r5","c":0.35,"t":22,"v":3},{"s":"r5","c":0.35,"t":24,"v":2.4},{"s":"r5","c":0.35,"t":27,"v":1.9},{"s":"r5","c":0.35,"t":30,"v":1.6},{"s":"r5","c":0.35,"t":35,"v":1.5},{"s":"r5","c":0.35,"t":40,"v":1.3},{"s":"r5","c":0.35,"t":45,"v":1.1},{"s":"r5","c":0.35,"t":50,"v":0.8},
{"s":"r6","c":0.32,"t":2,"v":2.5},{"s":"r6","c":0.32,"t":3,"v":4.8},{"s":"r6","c":0.32,"t":5,"v":5.2},{"s":"r6","c":0.32,"t":7,"v":5.8},{"s":"r6","c":0.32,"t":9,"v":6.5},{"s":"r6","c":0.32,"t":11,"v":6.9},{"s":"r6","c":0.32,"t":13,"v":6.2},{"s":"r6","c":0.32,"t":15,"v":5.3},{"s":"r6","c":0.32,"t":17,"v":4.4},{"s":"r6","c":0.32,"t":19,"v":3.6},{"s":"r6","c":0.32,"t":21,"v":3},{"s":"r6","c":0.32,"t":24,"v":2.2},{"s":"r6","c":0.32,"t":28,"v":1.6},{"s":"r6","c":0.32,"t":33,"v":1.3},{"s":"r6","c":0.32,"t":40,"v":1.1},{"s":"r6","c":0.32,"t":45,"v":1},{"s":"r6","c":0.32,"t":50,"v":0.7},
{"s":"r7","c":0.29,"t":2,"v":2.2},{"s":"r7","c":0.29,"t":3,"v":4.5},{"s":"r7","c":0.29,"t":5,"v":5},{"s":"r7","c":0.29,"t":7,"v":5.3},{"s":"r7","c":0.29,"t":9,"v":6},{"s":"r7","c":0.29,"t":11,"v":6.3},{"s":"r7","c":0.29,"t":13,"v":5.8},{"s":"r7","c":0.29,"t":15,"v":5},{"s":"r7","c":0.29,"t":17,"v":4.2},{"s":"r7","c":0.29,"t":20,"v":3.2},{"s":"r7","c":0.29,"t":23,"v":2.3},{"s":"r7","c":0.29,"t":26,"v":1.8},{"s":"r7","c":0.29,"t":30,"v":1.4},{"s":"r7","c":0.29,"t":36,"v":1.2},{"s":"r7","c":0.29,"t":42,"v":1},{"s":"r7","c":0.29,"t":50,"v":0.6},
{"s":"r8","c":0.25,"t":2,"v":2},{"s":"r8","c":0.25,"t":3,"v":3.8},{"s":"r8","c":0.25,"t":5,"v":4.4},{"s":"r8","c":0.25,"t":7,"v":4.8},{"s":"r8","c":0.25,"t":9,"v":5.2},{"s":"r8","c":0.25,"t":11,"v":5},{"s":"r8","c":0.25,"t":13,"v":4.5},{"s":"r8","c":0.25,"t":15,"v":4},{"s":"r8","c":0.25,"t":17,"v":3.4},{"s":"r8","c":0.25,"t":20,"v":2.6},{"s":"r8","c":0.25,"t":23,"v":1.9},{"s":"r8","c":0.25,"t":26,"v":1.4},{"s":"r8","c":0.25,"t":30,"v":1.1},{"s":"r8","c":0.25,"t":36,"v":0.9},{"s":"r8","c":0.25,"t":42,"v":0.8},{"s":"r8","c":0.25,"t":46,"v":0.9},{"s":"r8","c":0.25,"t":50,"v":0.5},
{"s":"r9","c":0.22,"t":2,"v":1.5},{"s":"r9","c":0.22,"t":3,"v":3.2},{"s":"r9","c":0.22,"t":5,"v":3.8},{"s":"r9","c":0.22,"t":7,"v":4.3},{"s":"r9","c":0.22,"t":9,"v":4.6},{"s":"r9","c":0.22,"t":11,"v":4.4},{"s":"r9","c":0.22,"t":13,"v":4},{"s":"r9","c":0.22,"t":15,"v":3.5},{"s":"r9","c":0.22,"t":17,"v":3},{"s":"r9","c":0.22,"t":20,"v":2.3},{"s":"r9","c":0.22,"t":23,"v":1.6},{"s":"r9","c":0.22,"t":26,"v":1.2},{"s":"r9","c":0.22,"t":30,"v":1},{"s":"r9","c":0.22,"t":35,"v":0.8},{"s":"r9","c":0.22,"t":40,"v":0.9},{"s":"r9","c":0.22,"t":44,"v":0.7},{"s":"r9","c":0.22,"t":50,"v":0.4},
{"s":"r10","c":0.2,"t":2,"v":1},{"s":"r10","c":0.2,"t":3,"v":2.5},{"s":"r10","c":0.2,"t":5,"v":3.2},{"s":"r10","c":0.2,"t":7,"v":3.6},{"s":"r10","c":0.2,"t":9,"v":3.9},{"s":"r10","c":0.2,"t":11,"v":3.8},{"s":"r10","c":0.2,"t":13,"v":3.4},{"s":"r10","c":0.2,"t":15,"v":3},{"s":"r10","c":0.2,"t":18,"v":2.4},{"s":"r10","c":0.2,"t":21,"v":1.8},{"s":"r10","c":0.2,"t":24,"v":1.3},{"s":"r10","c":0.2,"t":28,"v":1},{"s":"r10","c":0.2,"t":33,"v":0.8},{"s":"r10","c":0.2,"t":38,"v":0.7},{"s":"r10","c":0.2,"t":42,"v":1},{"s":"r10","c":0.2,"t":45,"v":0.6},{"s":"r10","c":0.2,"t":50,"v":0.3},
{"s":"r11","c":0.44,"t":2,"v":0.5},{"s":"r11","c":0.44,"t":5,"v":0.8},{"s":"r11","c":0.44,"t":8,"v":1.2},{"s":"r11","c":0.44,"t":11,"v":1.6},{"s":"r11","c":0.44,"t":14,"v":2},{"s":"r11","c":0.44,"t":17,"v":2.4},{"s":"r11","c":0.44,"t":20,"v":2.6},{"s":"r11","c":0.44,"t":24,"v":2.5},{"s":"r11","c":0.44,"t":28,"v":2.3},{"s":"r11","c":0.44,"t":32,"v":2.1},{"s":"r11","c":0.44,"t":36,"v":2},{"s":"r11","c":0.44,"t":40,"v":1.9},{"s":"r11","c":0.44,"t":44,"v":1.7},{"s":"r11","c":0.44,"t":47,"v":1.5},{"s":"r11","c":0.44,"t":50,"v":1.1},
{"s":"r12","c":0.46,"t":2,"v":1.5},{"s":"r12","c":0.46,"t":5,"v":2.2},{"s":"r12","c":0.46,"t":8,"v":2.8},{"s":"r12","c":0.46,"t":11,"v":3.4},{"s":"r12","c":0.46,"t":14,"v":3.8},{"s":"r12","c":0.46,"t":17,"v":4.2},{"s":"r12","c":0.46,"t":19,"v":4.4},{"s":"r12","c":0.46,"t":21,"v":4},{"s":"r12","c":0.46,"t":23,"v":3.2},{"s":"r12","c":0.46,"t":26,"v":2.5},{"s":"r12","c":0.46,"t":30,"v":2},{"s":"r12","c":0.46,"t":35,"v":1.8},{"s":"r12","c":0.46,"t":40,"v":1.6},{"s":"r12","c":0.46,"t":45,"v":1.4},{"s":"r12","c":0.46,"t":50,"v":0.9},
{"s":"r13","c":0.43,"t":2,"v":0.8},{"s":"r13","c":0.43,"t":5,"v":1.2},{"s":"r13","c":0.43,"t":8,"v":1.8},{"s":"r13","c":0.43,"t":11,"v":2.4},{"s":"r13","c":0.43,"t":14,"v":3},{"s":"r13","c":0.43,"t":17,"v":3.5},{"s":"r13","c":0.43,"t":20,"v":3.8},{"s":"r13","c":0.43,"t":23,"v":3.6},{"s":"r13","c":0.43,"t":26,"v":3.2},{"s":"r13","c":0.43,"t":30,"v":3},{"s":"r13","c":0.43,"t":35,"v":2.9},{"s":"r13","c":0.43,"t":40,"v":2.8},{"s":"r13","c":0.43,"t":45,"v":2.6},{"s":"r13","c":0.43,"t":48,"v":2.4},{"s":"r13","c":0.43,"t":50,"v":1.9},
{"s":"r14","c":0.27,"t":2,"v":2.5},{"s":"r14","c":0.27,"t":3,"v":5},{"s":"r14","c":0.27,"t":5,"v":5.6},{"s":"r14","c":0.27,"t":7,"v":5.5},{"s":"r14","c":0.27,"t":9,"v":5.8},{"s":"r14","c":0.27,"t":11,"v":5.6},{"s":"r14","c":0.27,"t":13,"v":5.2},{"s":"r14","c":0.27,"t":15,"v":4.6},{"s":"r14","c":0.27,"t":17,"v":3.8},{"s":"r14","c":0.27,"t":20,"v":2.8},{"s":"r14","c":0.27,"t":24,"v":1.9},{"s":"r14","c":0.27,"t":28,"v":1.4},{"s":"r14","c":0.27,"t":34,"v":1.2},{"s":"r14","c":0.27,"t":40,"v":1.1},{"s":"r14","c":0.27,"t":50,"v":0.6}
],
"BP":[
{"R":0.011,"v":5.2,"c":0.3},{"R":0.015,"v":5.6,"c":0.3},{"R":0.02,"v":5,"c":0.22},{"R":0.03,"v":6,"c":0.22},{"R":0.035,"v":6.3,"c":0.3},{"R":0.045,"v":5.8,"c":0.22},{"R":0.06,"v":5.4,"c":0.3},{"R":0.08,"v":5.6,"c":0.3},{"R":0.12,"v":5.2,"c":0.3},{"R":0.2,"v":5.5,"c":0.3},{"R":0.3,"v":5.6,"c":0.22},{"R":0.5,"v":5.5,"c":0.3},{"R":0.8,"v":5.9,"c":0.3},{"R":1.3,"v":6.1,"c":0.3},{"R":2,"v":7,"c":0.3},{"R":3,"v":8,"c":0.3},{"R":5,"v":10.2,"c":0.3},{"R":8,"v":12.5,"c":0.3},
{"R":0.012,"v":0.0035,"c":0.3},{"R":0.018,"v":0.005,"c":0.3},{"R":0.025,"v":0.0065,"c":0.22},{"R":0.035,"v":0.0085,"c":0.3},{"R":0.05,"v":0.014,"c":0.3},{"R":0.07,"v":0.017,"c":0.22},{"R":0.1,"v":0.028,"c":0.3},{"R":0.15,"v":0.045,"c":0.3},{"R":0.22,"v":0.058,"c":0.3},{"R":0.35,"v":0.1,"c":0.3},{"R":0.5,"v":0.15,"c":0.3},{"R":0.8,"v":0.2,"c":0.3},{"R":1.2,"v":0.3,"c":0.3},{"R":2,"v":0.4,"c":0.3},{"R":3,"v":0.5,"c":0.3},{"R":5,"v":0.7,"c":0.3},{"R":8,"v":0.9,"c":0.3},
{"R":0.01,"v":3.8,"c":0.45},{"R":0.012,"v":4.2,"c":0.45},{"R":0.014,"v":3.6,"c":0.45},{"R":0.017,"v":4.4,"c":0.45},{"R":0.02,"v":3.9,"c":0.45},{"R":0.024,"v":4.3,"c":0.45},{"R":0.028,"v":4,"c":0.45},{"R":0.033,"v":4.6,"c":0.45},{"R":0.04,"v":4.2,"c":0.45},{"R":0.05,"v":4.5,"c":0.45},{"R":0.06,"v":4.1,"c":0.45},{"R":0.075,"v":4.6,"c":0.45},{"R":0.09,"v":4.4,"c":0.45},{"R":0.11,"v":4.8,"c":0.45},{"R":0.14,"v":4.5,"c":0.45},{"R":0.17,"v":4.9,"c":0.45},{"R":0.22,"v":4.6,"c":0.45},{"R":0.27,"v":5,"c":0.45},{"R":0.33,"v":4.7,"c":0.45},{"R":0.4,"v":5.1,"c":0.45},{"R":0.5,"v":4.9,"c":0.45},{"R":0.6,"v":5.3,"c":0.45},{"R":0.75,"v":5.1,"c":0.45},{"R":0.9,"v":5.6,"c":0.45},{"R":1.1,"v":5.4,"c":0.45},{"R":1.4,"v":6,"c":0.45},{"R":1.7,"v":6.1,"c":0.45},{"R":2.1,"v":6.8,"c":0.45},{"R":2.6,"v":7.2,"c":0.45},{"R":3.2,"v":7.9,"c":0.45},{"R":4,"v":8.6,"c":0.45},{"R":5,"v":9.8,"c":0.45},{"R":6,"v":10.8,"c":0.45},{"R":7.5,"v":11.6,"c":0.45},{"R":9,"v":13.5,"c":0.45},{"R":11,"v":15.2,"c":0.45},{"R":13,"v":16.5,"c":0.45},{"R":14.5,"v":18,"c":0.45},
{"R":0.013,"v":4.7,"c":0.44},{"R":0.022,"v":4.8,"c":0.44},{"R":0.037,"v":3.9,"c":0.44},{"R":0.065,"v":4.8,"c":0.44},{"R":0.1,"v":4.2,"c":0.44},{"R":0.16,"v":4.3,"c":0.44},{"R":0.25,"v":4.4,"c":0.44},{"R":0.37,"v":5.3,"c":0.44},{"R":0.55,"v":4.6,"c":0.44},{"R":0.8,"v":5,"c":0.44},{"R":1.2,"v":5.8,"c":0.44},{"R":1.9,"v":6.4,"c":0.44},{"R":2.9,"v":7.4,"c":0.44},{"R":4.5,"v":9,"c":0.44},{"R":7,"v":11.2,"c":0.44},{"R":10,"v":14,"c":0.44},
{"R":0.01,"v":0.003,"c":0.45},{"R":0.011,"v":0.0042,"c":0.45},{"R":0.013,"v":0.0035,"c":0.45},{"R":0.015,"v":0.0048,"c":0.45},{"R":0.018,"v":0.004,"c":0.45},{"R":0.021,"v":0.0052,"c":0.45},{"R":0.025,"v":0.0058,"c":0.45},{"R":0.03,"v":0.0065,"c":0.45},{"R":0.036,"v":0.0082,"c":0.45},{"R":0.043,"v":0.0098,"c":0.45},{"R":0.05,"v":0.0115,"c":0.45},{"R":0.06,"v":0.0142,"c":0.45},{"R":0.07,"v":0.0165,"c":0.45},{"R":0.085,"v":0.021,"c":0.45},{"R":0.1,"v":0.025,"c":0.45},{"R":0.12,"v":0.031,"c":0.45},{"R":0.15,"v":0.04,"c":0.45},{"R":0.18,"v":0.048,"c":0.45},{"R":0.22,"v":0.058,"c":0.45},{"R":0.27,"v":0.073,"c":0.45},{"R":0.33,"v":0.088,"c":0.45},{"R":0.4,"v":0.107,"c":0.45},{"R":0.5,"v":0.13,"c":0.45},{"R":0.6,"v":0.155,"c":0.45},{"R":0.75,"v":0.185,"c":0.45},{"R":0.9,"v":0.215,"c":0.45},{"R":1.1,"v":0.255,"c":0.45},{"R":1.4,"v":0.3,"c":0.45},{"R":1.7,"v":0.35,"c":0.45},{"R":2.1,"v":0.4,"c":0.45},{"R":2.6,"v":0.45,"c":0.45},{"R":3.2,"v":0.52,"c":0.45},{"R":4,"v":0.6,"c":0.45},{"R":5,"v":0.68,"c":0.45},{"R":6,"v":0.76,"c":0.45},{"R":7.5,"v":0.85,"c":0.45},{"R":9,"v":0.92,"c":0.45},{"R":11,"v":0.96,"c":0.45},{"R":13,"v":0.99,"c":0.45},{"R":14.5,"v":1.02,"c":0.45},
{"R":0.012,"v":0.0028,"c":0.44},{"R":0.016,"v":0.0038,"c":0.44},{"R":0.027,"v":0.0068,"c":0.44},{"R":0.04,"v":0.0088,"c":0.44},{"R":0.055,"v":0.0135,"c":0.44},{"R":0.078,"v":0.019,"c":0.44},{"R":0.11,"v":0.027,"c":0.44},{"R":0.165,"v":0.044,"c":0.44},{"R":0.24,"v":0.064,"c":0.44},{"R":0.36,"v":0.095,"c":0.44},{"R":0.55,"v":0.14,"c":0.44},{"R":0.82,"v":0.2,"c":0.44},{"R":1.25,"v":0.28,"c":0.44},{"R":1.9,"v":0.37,"c":0.44},{"R":2.9,"v":0.49,"c":0.44},{"R":4.5,"v":0.64,"c":0.44},{"R":6.8,"v":0.8,"c":0.44},{"R":10,"v":0.94,"c":0.44}
],
"BL":[
{"g":"K","R":0.01,"v":4.7},{"g":"K","R":0.03,"v":4.7},{"g":"K","R":0.1,"v":4.75},{"g":"K","R":0.45,"v":5},{"g":"K","R":1,"v":5.5},{"g":"K","R":2.2,"v":6.9},{"g":"K","R":4,"v":8.8},{"g":"K","R":7.4,"v":11.8},{"g":"K","R":11,"v":15},{"g":"K","R":15,"v":17.8},
{"g":"P","R":0.01,"v":0.0024},{"g":"P","R":0.025,"v":0.0052},{"g":"P","R":0.059,"v":0.0136},{"g":"P","R":0.16,"v":0.042},{"g":"P","R":0.45,"v":0.126},{"g":"P","R":1.2,"v":0.28},{"g":"P","R":3.3,"v":0.53},{"g":"P","R":7.4,"v":0.86},{"g":"P","R":11,"v":0.95},{"g":"P","R":15,"v":1}
],
"D1":[
{"P":0.005,"T":16.5,"c":0.22},{"P":0.008,"T":19.5,"c":0.22},{"P":0.01,"T":18,"c":0.22},{"P":0.015,"T":17,"c":0.22},{"P":0.02,"T":14.5,"c":0.22},{"P":0.03,"T":12.5,"c":0.22},{"P":0.04,"T":9,"c":0.22},{"P":0.045,"T":8.4,"c":0.22},{"P":0.05,"T":8.8,"c":0.22},{"P":0.06,"T":7.6,"c":0.22},{"P":0.07,"T":9.5,"c":0.22},{"P":0.08,"T":8,"c":0.22},{"P":0.1,"T":6.5,"c":0.22},{"P":0.12,"T":5.2,"c":0.22},{"P":0.12,"T":4.3,"c":0.22},{"P":0.15,"T":4.6,"c":0.22},{"P":0.18,"T":5.2,"c":0.22},{"P":0.2,"T":3.8,"c":0.22},{"P":0.25,"T":3.9,"c":0.22},{"P":0.3,"T":3.4,"c":0.22},{"P":0.35,"T":3,"c":0.22},{"P":0.4,"T":2.5,"c":0.22},{"P":0.45,"T":2.2,"c":0.22},{"P":0.5,"T":2,"c":0.22},{"P":0.55,"T":1.9,"c":0.22},{"P":0.6,"T":1.7,"c":0.22},{"P":0.65,"T":1.6,"c":0.22},{"P":0.7,"T":1.5,"c":0.22},{"P":0.8,"T":1.3,"c":0.22},{"P":0.9,"T":1.1,"c":0.22},{"P":0.95,"T":1,"c":0.22},
{"P":0.06,"T":6,"c":0.22},{"P":0.09,"T":5.5,"c":0.22},{"P":0.11,"T":6,"c":0.22},{"P":0.14,"T":4.3,"c":0.22},{"P":0.17,"T":4.1,"c":0.22},{"P":0.22,"T":3.5,"c":0.22},{"P":0.27,"T":3.2,"c":0.22},{"P":0.32,"T":2.8,"c":0.22},{"P":0.37,"T":2.5,"c":0.22},{"P":0.48,"T":2,"c":0.22},{"P":0.58,"T":1.7,"c":0.22},{"P":0.68,"T":1.5,"c":0.22},{"P":0.75,"T":1.35,"c":0.22},{"P":0.85,"T":1.2,"c":0.22},
{"P":0.01,"T":19,"c":0.33},{"P":0.02,"T":17.5,"c":0.33},{"P":0.03,"T":15,"c":0.33},{"P":0.04,"T":13,"c":0.33},{"P":0.05,"T":11.5,"c":0.33},{"P":0.07,"T":9.8,"c":0.33},{"P":0.09,"T":8.4,"c":0.33},{"P":0.11,"T":7.5,"c":0.33},{"P":0.14,"T":6.5,"c":0.33},{"P":0.17,"T":5.7,"c":0.33},{"P":0.2,"T":5.2,"c":0.33},{"P":0.25,"T":4.3,"c":0.33},{"P":0.3,"T":3.8,"c":0.33},{"P":0.35,"T":3.3,"c":0.33},{"P":0.42,"T":2.9,"c":0.33},{"P":0.5,"T":2.4,"c":0.33},{"P":0.58,"T":2.1,"c":0.33},{"P":0.66,"T":1.8,"c":0.33},{"P":0.75,"T":1.5,"c":0.33},{"P":0.85,"T":1.3,"c":0.33},{"P":0.95,"T":1.1,"c":0.33},
{"P":0.06,"T":10.5,"c":0.36},{"P":0.08,"T":9,"c":0.36},{"P":0.1,"T":8.6,"c":0.36},{"P":0.13,"T":7.1,"c":0.36},{"P":0.16,"T":6.1,"c":0.36},{"P":0.22,"T":5,"c":0.36},{"P":0.28,"T":4.1,"c":0.36},{"P":0.38,"T":3.2,"c":0.36},{"P":0.46,"T":2.7,"c":0.36},{"P":0.54,"T":2.3,"c":0.36},{"P":0.62,"T":2,"c":0.36},{"P":0.7,"T":1.7,"c":0.36},{"P":0.8,"T":1.45,"c":0.36},{"P":0.9,"T":1.25,"c":0.36},
{"P":0.002,"T":26.5,"c":0.46},{"P":0.003,"T":26.8,"c":0.46},{"P":0.004,"T":25.5,"c":0.46},{"P":0.004,"T":23.5,"c":0.46},{"P":0.008,"T":22,"c":0.45},{"P":0.012,"T":20.5,"c":0.45},{"P":0.018,"T":19,"c":0.45},{"P":0.022,"T":17.5,"c":0.45},{"P":0.025,"T":16,"c":0.45},{"P":0.03,"T":15.5,"c":0.45},{"P":0.035,"T":13.5,"c":0.45},{"P":0.04,"T":12.5,"c":0.45},{"P":0.045,"T":11.5,"c":0.45},{"P":0.05,"T":10.8,"c":0.45},{"P":0.06,"T":10.2,"c":0.45},{"P":0.065,"T":12.8,"c":0.45},{"P":0.07,"T":11.5,"c":0.45},{"P":0.08,"T":9.6,"c":0.45},{"P":0.09,"T":8.8,"c":0.45},{"P":0.1,"T":8.3,"c":0.45},{"P":0.11,"T":7.2,"c":0.45},{"P":0.12,"T":6.8,"c":0.45},{"P":0.13,"T":7.8,"c":0.45},{"P":0.15,"T":6.2,"c":0.45},{"P":0.17,"T":7.2,"c":0.45},{"P":0.19,"T":5.8,"c":0.45},{"P":0.21,"T":5.3,"c":0.45},{"P":0.23,"T":6.2,"c":0.45},{"P":0.25,"T":4.9,"c":0.45},{"P":0.27,"T":4.5,"c":0.45},{"P":0.3,"T":4.1,"c":0.45},{"P":0.33,"T":3.8,"c":0.45},{"P":0.36,"T":3.5,"c":0.45},{"P":0.4,"T":3.2,"c":0.45},{"P":0.45,"T":2.9,"c":0.45},{"P":0.5,"T":2.6,"c":0.45},{"P":0.55,"T":2.4,"c":0.45},{"P":0.6,"T":2.2,"c":0.45},{"P":0.65,"T":2,"c":0.45},{"P":0.7,"T":1.9,"c":0.45},{"P":0.75,"T":1.7,"c":0.45},{"P":0.8,"T":1.6,"c":0.45},{"P":0.85,"T":1.5,"c":0.45},{"P":0.9,"T":1.3,"c":0.45},{"P":0.95,"T":1.2,"c":0.45},{"P":0.98,"T":1.1,"c":0.45},
{"P":0.14,"T":8.5,"c":0.45},{"P":0.16,"T":6.8,"c":0.45},{"P":0.2,"T":6.5,"c":0.44},{"P":0.22,"T":5.6,"c":0.45},{"P":0.26,"T":5.2,"c":0.44},{"P":0.28,"T":4.8,"c":0.45},{"P":0.32,"T":4.4,"c":0.44},{"P":0.34,"T":4.1,"c":0.45},{"P":0.38,"T":3.7,"c":0.45},{"P":0.42,"T":3.4,"c":0.45},{"P":0.47,"T":3.1,"c":0.44},{"P":0.52,"T":2.8,"c":0.45},{"P":0.57,"T":2.6,"c":0.44},{"P":0.62,"T":2.4,"c":0.45},{"P":0.68,"T":2.1,"c":0.44},{"P":0.72,"T":2,"c":0.45},{"P":0.78,"T":1.8,"c":0.44},{"P":0.83,"T":1.6,"c":0.45},{"P":0.88,"T":1.45,"c":0.44},{"P":0.93,"T":1.3,"c":0.45},{"P":0.97,"T":1.15,"c":0.44},
{"P":0.02,"T":22,"c":0.44},{"P":0.03,"T":20,"c":0.44},{"P":0.05,"T":16,"c":0.44},{"P":0.08,"T":14,"c":0.44},{"P":0.12,"T":10.4,"c":0.44},{"P":0.18,"T":9,"c":0.44},{"P":0.23,"T":7.8,"c":0.44},{"P":0.31,"T":6,"c":0.44},{"P":0.4,"T":4.5,"c":0.44},{"P":0.5,"T":3.3,"c":0.44},{"P":0.6,"T":2.8,"c":0.44},{"P":0.7,"T":2.4,"c":0.44},{"P":0.8,"T":2,"c":0.44},{"P":0.9,"T":1.6,"c":0.44}
],
"D2":[
{"P":0.002,"T":1,"c":0.22},{"P":0.003,"T":2,"c":0.22},{"P":0.004,"T":2.8,"c":0.22},{"P":0.005,"T":1.5,"c":0.22},{"P":0.01,"T":1.1,"c":0.22},{"P":0.03,"T":1,"c":0.22},{"P":0.06,"T":0.9,"c":0.22},{"P":0.1,"T":1.1,"c":0.22},{"P":0.15,"T":1.2,"c":0.22},{"P":0.2,"T":1.3,"c":0.22},{"P":0.25,"T":1.4,"c":0.22},{"P":0.3,"T":1.5,"c":0.22},{"P":0.35,"T":1.6,"c":0.22},{"P":0.4,"T":1.8,"c":0.22},{"P":0.45,"T":2,"c":0.22},{"P":0.5,"T":2.2,"c":0.22},{"P":0.55,"T":2.4,"c":0.22},{"P":0.6,"T":2.7,"c":0.22},{"P":0.65,"T":3,"c":0.22},{"P":0.7,"T":3.5,"c":0.22},{"P":0.75,"T":3.9,"c":0.22},{"P":0.8,"T":4.5,"c":0.22},{"P":0.85,"T":5.2,"c":0.22},{"P":0.88,"T":5.8,"c":0.22},{"P":0.9,"T":6.3,"c":0.22},{"P":0.92,"T":6.7,"c":0.22},
{"P":0.35,"T":1.7,"c":0.22},{"P":0.55,"T":2.3,"c":0.22},{"P":0.65,"T":2.8,"c":0.22},{"P":0.72,"T":3.3,"c":0.22},{"P":0.78,"T":4.2,"c":0.22},{"P":0.83,"T":4.9,"c":0.22},{"P":0.87,"T":5.5,"c":0.22},{"P":0.91,"T":6.5,"c":0.22},
{"P":0.02,"T":1.2,"c":0.33},{"P":0.08,"T":1.3,"c":0.33},{"P":0.15,"T":1.5,"c":0.33},{"P":0.22,"T":1.7,"c":0.33},{"P":0.3,"T":1.9,"c":0.33},{"P":0.38,"T":2.2,"c":0.33},{"P":0.45,"T":2.5,"c":0.33},{"P":0.52,"T":2.8,"c":0.33},{"P":0.6,"T":3.2,"c":0.33},{"P":0.67,"T":3.8,"c":0.33},{"P":0.73,"T":4.4,"c":0.33},{"P":0.78,"T":5,"c":0.33},{"P":0.82,"T":5.6,"c":0.33},{"P":0.86,"T":6.3,"c":0.33},{"P":0.9,"T":7.2,"c":0.33},{"P":0.93,"T":8.5,"c":0.33},
{"P":0.4,"T":2.3,"c":0.36},{"P":0.55,"T":3,"c":0.36},{"P":0.7,"T":4.1,"c":0.36},{"P":0.8,"T":5.3,"c":0.36},{"P":0.88,"T":6.8,"c":0.36},{"P":0.92,"T":7.8,"c":0.36},
{"P":0.01,"T":0.8,"c":0.45},{"P":0.03,"T":1,"c":0.45},{"P":0.06,"T":1.1,"c":0.45},{"P":0.1,"T":1.2,"c":0.45},{"P":0.14,"T":1.3,"c":0.45},{"P":0.18,"T":1.45,"c":0.45},{"P":0.22,"T":1.6,"c":0.45},{"P":0.26,"T":1.7,"c":0.45},{"P":0.3,"T":1.8,"c":0.45},{"P":0.35,"T":2,"c":0.45},{"P":0.4,"T":2.2,"c":0.45},{"P":0.45,"T":2.4,"c":0.45},{"P":0.5,"T":2.6,"c":0.45},{"P":0.55,"T":2.9,"c":0.45},{"P":0.6,"T":3.2,"c":0.45},{"P":0.65,"T":3.6,"c":0.45},{"P":0.7,"T":4,"c":0.45},{"P":0.74,"T":4.5,"c":0.45},{"P":0.78,"T":5.2,"c":0.45},{"P":0.8,"T":6,"c":0.45},{"P":0.82,"T":6.8,"c":0.45},{"P":0.84,"T":7.5,"c":0.45},{"P":0.86,"T":8,"c":0.45},{"P":0.88,"T":8.5,"c":0.45},{"P":0.9,"T":9,"c":0.45},{"P":0.92,"T":10,"c":0.45},{"P":0.93,"T":11,"c":0.45},{"P":0.94,"T":12,"c":0.45},{"P":0.95,"T":13,"c":0.45},{"P":0.96,"T":14.5,"c":0.45},{"P":0.955,"T":14.8,"c":0.42},{"P":0.97,"T":13.5,"c":0.42},{"P":0.965,"T":12.2,"c":0.42},{"P":0.95,"T":11.5,"c":0.42},{"P":0.94,"T":10.5,"c":0.42},
{"P":0.05,"T":1,"c":0.45},{"P":0.12,"T":1.2,"c":0.44},{"P":0.2,"T":1.5,"c":0.45},{"P":0.28,"T":1.75,"c":0.44},{"P":0.33,"T":1.9,"c":0.45},{"P":0.38,"T":2.05,"c":0.44},{"P":0.43,"T":2.3,"c":0.45},{"P":0.48,"T":2.5,"c":0.44},{"P":0.53,"T":2.8,"c":0.45},{"P":0.58,"T":3,"c":0.44},{"P":0.63,"T":3.4,"c":0.45},{"P":0.68,"T":3.8,"c":0.44},{"P":0.72,"T":4.3,"c":0.45},{"P":0.76,"T":4.9,"c":0.44},{"P":0.79,"T":5.6,"c":0.45},{"P":0.81,"T":6.4,"c":0.44},{"P":0.83,"T":7,"c":0.45},{"P":0.85,"T":7.8,"c":0.44},{"P":0.87,"T":8.3,"c":0.45},{"P":0.89,"T":8.8,"c":0.44},{"P":0.91,"T":9.5,"c":0.45},{"P":0.93,"T":10.5,"c":0.44},{"P":0.945,"T":12.5,"c":0.45},{"P":0.96,"T":13.8,"c":0.44},{"P":0.97,"T":14.2,"c":0.45},{"P":0.975,"T":12.8,"c":0.44},
{"P":0.5,"T":3.3,"c":0.44},{"P":0.6,"T":3.8,"c":0.44},{"P":0.7,"T":4.8,"c":0.44},{"P":0.76,"T":6,"c":0.44},{"P":0.8,"T":7.2,"c":0.44},{"P":0.83,"T":7.5,"c":0.44},{"P":0.85,"T":6.5,"c":0.44},{"P":0.88,"T":7.2,"c":0.44},{"P":0.91,"T":8.5,"c":0.44},{"P":0.93,"T":9.5,"c":0.44}
]
},
"columns":3,
"spacing":{"row":56,"column":53.5},
"bounds":"flush",
"align":"each",
"concat":[
{"width":123,"height":93,"layer":[
{"data":{"name":"A"},"mark":{"type":"line","strokeWidth":1},"encoding":{
"x":{"field":"t","type":"quantitative","scale":{"domain":[4,50],"nice":false,"zero":false},"axis":{"values":[10,20,30,40,50],"title":"Time [min]"}},
"y":{"field":"v","type":"quantitative","scale":{"domain":[0,15],"nice":false},"axis":{"values":[0,5,10,15],"title":"Transcription rate R [mRNA/min]"}},
"color":{"field":"c","type":"quantitative","scale":{"domain":[0.2,0.33,0.46],"range":["#1c86cf","#8c8c8c","#f5883b"]},
"legend":{"type":"gradient","orient":"none","legendX":109,"legendY":-3.3,"direction":"vertical","gradientLength":42,"gradientThickness":4,"gradientStrokeColor":"#444","gradientStrokeWidth":0.4,"title":null,"labelExpr":"''","labelOpacity":0,"labelFontSize":1,"padding":0,"offset":0}},
"detail":{"field":"s"}}},
{"data":{"values":[{"s":"A"}]},"mark":{"type":"text","align":"left","baseline":"alphabetic","fontSize":16,"fontWeight":"bold","clip":false},"encoding":{"x":{"datum":-9.65},"y":{"datum":17.79},"text":{"field":"s"}}},
{"data":{"values":[{"s":"x/L=0.46"}]},"mark":{"type":"text","align":"center","baseline":"alphabetic","fontSize":5.5,"fontWeight":"bold","clip":false},"encoding":{"x":{"datum":45.5},"y":{"datum":15.97},"text":{"field":"s"}}},
{"data":{"values":[{"s":"x/L=0.20"}]},"mark":{"type":"text","align":"center","baseline":"alphabetic","fontSize":5.5,"fontWeight":"bold","clip":false},"encoding":{"x":{"datum":45.5},"y":{"datum":7.74},"text":{"field":"s"}}}
]},
{"width":125,"height":93,"layer":[
{"data":{"name":"C1"},"mark":{"type":"line","strokeWidth":1},"encoding":{
"x":{"field":"t","type":"quantitative","scale":{"domain":[2,50],"nice":false,"zero":false},"axis":{"values":[10,20,30,40,50],"title":"Time [min]"}},
"y":{"field":"v","type":"quantitative","scale":{"domain":[0,30],"nice":false},"axis":{"values":[0,10,20,30],"title":null}},
"color":{"field":"c","type":"quantitative","scale":{"domain":[0.2,0.33,0.46],"range":["#1c86cf","#8c8c8c","#f5883b"]},"legend":null},
"detail":{"field":"s"}}},
{"data":{"values":[{"s":"C"}]},"mark":{"type":"text","align":"left","baseline":"alphabetic","fontSize":16,"fontWeight":"bold","clip":false},"encoding":{"x":{"datum":-12.09},"y":{"datum":35.58},"text":{"field":"s"}}},
{"data":{"values":[{"s":"OFF-time T"}]},"mark":{"type":"text","align":"left","baseline":"alphabetic","angle":270,"fontSize":7,"clip":false},"encoding":{"x":{"datum":-3.95},"y":{"datum":7.65},"text":{"field":"s"}}},
{"data":{"values":[{"s":"OFF"}]},"mark":{"type":"text","align":"left","baseline":"alphabetic","angle":270,"fontSize":5,"dx":35.8,"dy":1.5,"clip":false},"encoding":{"x":{"datum":-3.95},"y":{"datum":7.65},"text":{"field":"s"}}},
{"data":{"values":[{"s":"[min]"}]},"mark":{"type":"text","align":"left","baseline":"alphabetic","angle":270,"fontSize":7,"dx":47.75,"clip":false},"encoding":{"x":{"datum":-3.95},"y":{"datum":7.65},"text":{"field":"s"}}}
]},
{"width":125,"height":93,"layer":[
{"data":{"name":"C2"},"mark":{"type":"line","strokeWidth":1},"encoding":{
"x":{"field":"t","type":"quantitative","scale":{"domain":[2,50],"nice":false,"zero":false},"axis":{"values":[10,20,30,40,50],"title":"Time [min]"}},
"y":{"field":"v","type":"quantitative","scale":{"domain":[0,30],"nice":false},"axis":{"values":[0,10,20,30],"title":null}},
"color":{"field":"c","type":"quantitative","scale":{"domain":[0.2,0.33,0.46],"range":["#1c86cf","#8c8c8c","#f5883b"]},"legend":null},
"detail":{"field":"s"}}},
{"data":{"values":[{"s":"ON-time T"}]},"mark":{"type":"text","align":"left","baseline":"alphabetic","angle":270,"fontSize":7,"clip":false},"encoding":{"x":{"datum":-4.34},"y":{"datum":7.84},"text":{"field":"s"}}},
{"data":{"values":[{"s":"ON"}]},"mark":{"type":"text","align":"left","baseline":"alphabetic","angle":270,"fontSize":5,"dx":32.3,"dy":1.5,"clip":false},"encoding":{"x":{"datum":-4.34},"y":{"datum":7.84},"text":{"field":"s"}}},
{"data":{"values":[{"s":"[min]"}]},"mark":{"type":"text","align":"left","baseline":"alphabetic","angle":270,"fontSize":7,"dx":41.75,"clip":false},"encoding":{"x":{"datum":-4.34},"y":{"datum":7.84},"text":{"field":"s"}}}
]},
{"width":118,"height":113,"layer":[
{"data":{"name":"BP"},"mark":{"type":"circle","size":18,"opacity":0.85,"clip":false},"encoding":{
"x":{"field":"R","type":"quantitative","scale":{"type":"log","domain":[0.01,12.5],"nice":false},"axis":{"values":[0.01,0.1,1,10],"labelExpr":"datum.value >= 5 ? '10¹' : datum.value >= 0.5 ? '10⁰' : datum.value >= 0.05 ? '10⁻¹' : '10⁻²'","title":"R [mRNA/min]"}},
"y":{"field":"v","type":"quantitative","scale":{"type":"log","domain":[0.002,100],"nice":false},"axis":{"values":[0.01,1,100],"labelExpr":"datum.value >= 50 ? '10²' : datum.value >= 0.5 ? '10⁰' : '10⁻²'","title":"Control parameter"}},
"color":{"field":"c","type":"quantitative","scale":{"domain":[0.2,0.33,0.46],"range":["#1c86cf","#8c8c8c","#f5883b"]},"legend":null}}},
{"data":{"name":"BL"},"mark":{"type":"line","color":"black","strokeWidth":1,"clip":false},"encoding":{"x":{"field":"R","type":"quantitative"},"y":{"field":"v","type":"quantitative"},"detail":{"field":"g"}}},
{"data":{"values":[{"s":"dash"}]},"mark":{"type":"rule","color":"#222","strokeWidth":0.8,"strokeDash":[3,2]},"encoding":{"x":{"datum":7.3},"y":{"datum":0.002},"y2":{"datum":100}}},
{"data":{"values":[{"s":"B"}]},"mark":{"type":"text","align":"left","baseline":"alphabetic","fontSize":16,"fontWeight":"bold","clip":false},"encoding":{"x":{"datum":0.000891},"y":{"datum":315},"text":{"field":"s"}}},
{"data":{"values":[{"s":"R = K·P"}]},"mark":{"type":"text","align":"left","baseline":"alphabetic","fontSize":9.5,"clip":false},"encoding":{"x":{"datum":0.0881},"y":{"datum":62},"text":{"field":"s"}}},
{"data":{"values":[{"s":"ON"}]},"mark":{"type":"text","align":"left","baseline":"alphabetic","fontSize":6.3,"dx":33,"dy":2.5,"clip":false},"encoding":{"x":{"datum":0.0881},"y":{"datum":62},"text":{"field":"s"}}},
{"data":{"values":[{"s":"K"}]},"mark":{"type":"text","align":"left","baseline":"alphabetic","fontSize":9.5,"clip":false},"encoding":{"x":{"datum":0.0213},"y":{"datum":8.87},"text":{"field":"s"}}},
{"data":{"values":[{"s":"P"}]},"mark":{"type":"text","align":"left","baseline":"alphabetic","fontSize":9.5,"clip":false},"encoding":{"x":{"datum":0.0195},"y":{"datum":0.0241},"text":{"field":"s"}}},
{"data":{"values":[{"s":"ON"}]},"mark":{"type":"text","align":"left","baseline":"alphabetic","fontSize":6.3,"dx":6.34,"dy":2.5,"clip":false},"encoding":{"x":{"datum":0.0195},"y":{"datum":0.0241},"text":{"field":"s"}}}
]},
{"width":125,"height":113,"layer":[
{"data":{"values":[{"s":"bar"}]},"mark":{"type":"rule","color":"#a0a0a0","strokeWidth":3},"encoding":{"x":{"datum":0},"y":{"datum":0},"y2":{"datum":30}}},
{"data":{"name":"D1"},"mark":{"type":"point","filled":false,"size":14,"strokeWidth":1,"opacity":0.8},"encoding":{
"x":{"field":"P","type":"quantitative","scale":{"domain":[0,1],"nice":false},"axis":{"values":[0,0.5,1],"format":"~g","title":null}},
"y":{"field":"T","type":"quantitative","scale":{"domain":[0,30],"nice":false},"axis":{"values":[0,10,20,30],"title":null}},
"color":{"field":"c","type":"quantitative","scale":{"domain":[0.2,0.33,0.46],"range":["#1c86cf","#8c8c8c","#f5883b"]},"legend":null}}},
{"data":{"values":[{"s":"D"}]},"mark":{"type":"text","align":"left","baseline":"alphabetic","fontSize":16,"fontWeight":"bold","clip":false},"encoding":{"x":{"datum":-0.288},"y":{"datum":33.19},"text":{"field":"s"}}},
{"data":{"values":[{"s":"T"}]},"mark":{"type":"text","align":"left","baseline":"alphabetic","fontSize":9.5,"clip":false},"encoding":{"x":{"datum":0.29},"y":{"datum":27.88},"text":{"field":"s"}}},
{"data":{"values":[{"s":"OFF"}]},"mark":{"type":"text","align":"left","baseline":"alphabetic","fontSize":6.3,"dx":5.8,"dy":2.5,"clip":false},"encoding":{"x":{"datum":0.29},"y":{"datum":27.88},"text":{"field":"s"}}},
{"data":{"values":[{"s":"= T"}]},"mark":{"type":"text","align":"left","baseline":"alphabetic","fontSize":9.5,"dx":21.04,"clip":false},"encoding":{"x":{"datum":0.29},"y":{"datum":27.88},"text":{"field":"s"}}},
{"data":{"values":[{"s":"C"}]},"mark":{"type":"text","align":"left","baseline":"alphabetic","fontSize":6.3,"dx":35.03,"dy":2.5,"clip":false},"encoding":{"x":{"datum":0.29},"y":{"datum":27.88},"text":{"field":"s"}}},
{"data":{"values":[{"s":"/P"}]},"mark":{"type":"text","align":"left","baseline":"alphabetic","fontSize":9.5,"dx":39.58,"clip":false},"encoding":{"x":{"datum":0.29},"y":{"datum":27.88},"text":{"field":"s"}}},
{"data":{"values":[{"s":"ON"}]},"mark":{"type":"text","align":"left","baseline":"alphabetic","fontSize":6.3,"dx":48.56,"dy":2.5,"clip":false},"encoding":{"x":{"datum":0.29},"y":{"datum":27.88},"text":{"field":"s"}}},
{"data":{"values":[{"s":"T"}]},"mark":{"type":"text","align":"left","baseline":"alphabetic","angle":270,"fontSize":8,"clip":false},"encoding":{"x":{"datum":-0.124},"y":{"datum":10.17},"text":{"field":"s"}}},
{"data":{"values":[{"s":"OFF"}]},"mark":{"type":"text","align":"left","baseline":"alphabetic","angle":270,"fontSize":5.8,"dx":4.9,"dy":1.5,"clip":false},"encoding":{"x":{"datum":-0.124},"y":{"datum":10.17},"text":{"field":"s"}}},
{"data":{"values":[{"s":"[min]"}]},"mark":{"type":"text","align":"left","baseline":"alphabetic","angle":270,"fontSize":8,"dx":18.72,"clip":false},"encoding":{"x":{"datum":-0.124},"y":{"datum":10.17},"text":{"field":"s"}}},
{"data":{"values":[{"s":"P"}]},"mark":{"type":"text","align":"left","baseline":"alphabetic","fontSize":8,"clip":false},"encoding":{"x":{"datum":0.442},"y":{"datum":-4.86},"text":{"field":"s"}}},
{"data":{"values":[{"s":"ON"}]},"mark":{"type":"text","align":"left","baseline":"alphabetic","fontSize":5.8,"dx":5.34,"dy":2,"clip":false},"encoding":{"x":{"datum":0.442},"y":{"datum":-4.86},"text":{"field":"s"}}}
]},
{"width":125,"height":113,"layer":[
{"data":{"name":"D2"},"mark":{"type":"point","filled":false,"size":14,"strokeWidth":1,"opacity":0.8},"encoding":{
"x":{"field":"P","type":"quantitative","scale":{"domain":[0,1],"nice":false},"axis":{"values":[0,0.5,1],"format":"~g","title":null}},
"y":{"field":"T","type":"quantitative","scale":{"domain":[0,30],"nice":false},"axis":{"values":[0,10,20,30],"title":null}},
"color":{"field":"c","type":"quantitative","scale":{"domain":[0.2,0.33,0.46],"range":["#1c86cf","#8c8c8c","#f5883b"]},"legend":null}}},
{"data":{"values":[{"s":"T"}]},"mark":{"type":"text","align":"left","baseline":"alphabetic","fontSize":9.5,"clip":false},"encoding":{"x":{"datum":0.224},"y":{"datum":27.88},"text":{"field":"s"}}},
{"data":{"values":[{"s":"ON"}]},"mark":{"type":"text","align":"left","baseline":"alphabetic","fontSize":6.3,"dx":5.8,"dy":2.5,"clip":false},"encoding":{"x":{"datum":0.224},"y":{"datum":27.88},"text":{"field":"s"}}},
{"data":{"values":[{"s":"= T"}]},"mark":{"type":"text","align":"left","baseline":"alphabetic","fontSize":9.5,"dx":17.89,"clip":false},"encoding":{"x":{"datum":0.224},"y":{"datum":27.88},"text":{"field":"s"}}},
{"data":{"values":[{"s":"C"}]},"mark":{"type":"text","align":"left","baseline":"alphabetic","fontSize":6.3,"dx":31.88,"dy":2.5,"clip":false},"encoding":{"x":{"datum":0.224},"y":{"datum":27.88},"text":{"field":"s"}}},
{"data":{"values":[{"s":"/(1-P"}]},"mark":{"type":"text","align":"left","baseline":"alphabetic","fontSize":9.5,"dx":36.43,"clip":false},"encoding":{"x":{"datum":0.224},"y":{"datum":27.88},"text":{"field":"s"}}},
{"data":{"values":[{"s":"ON"}]},"mark":{"type":"text","align":"left","baseline":"alphabetic","fontSize":6.3,"dx":57.02,"dy":2.5,"clip":false},"encoding":{"x":{"datum":0.224},"y":{"datum":27.88},"text":{"field":"s"}}},
{"data":{"values":[{"s":")"}]},"mark":{"type":"text","align":"left","baseline":"alphabetic","fontSize":9.5,"dx":66.47,"clip":false},"encoding":{"x":{"datum":0.224},"y":{"datum":27.88},"text":{"field":"s"}}},
{"data":{"values":[{"s":"T"}]},"mark":{"type":"text","align":"left","baseline":"alphabetic","angle":270,"fontSize":8,"clip":false},"encoding":{"x":{"datum":-0.116},"y":{"datum":10.62},"text":{"field":"s"}}},
{"data":{"values":[{"s":"ON"}]},"mark":{"type":"text","align":"left","baseline":"alphabetic","angle":270,"fontSize":5.8,"dx":4.9,"dy":1.5,"clip":false},"encoding":{"x":{"datum":-0.116},"y":{"datum":10.62},"text":{"field":"s"}}},
{"data":{"values":[{"s":"[min]"}]},"mark":{"type":"text","align":"left","baseline":"alphabetic","angle":270,"fontSize":8,"dx":15.82,"clip":false},"encoding":{"x":{"datum":-0.116},"y":{"datum":10.62},"text":{"field":"s"}}},
{"data":{"values":[{"s":"P"}]},"mark":{"type":"text","align":"left","baseline":"alphabetic","fontSize":8,"clip":false},"encoding":{"x":{"datum":0.442},"y":{"datum":-4.86},"text":{"field":"s"}}},
{"data":{"values":[{"s":"ON"}]},"mark":{"type":"text","align":"left","baseline":"alphabetic","fontSize":5.8,"dx":5.34,"dy":2,"clip":false},"encoding":{"x":{"datum":0.442},"y":{"datum":-4.86},"text":{"field":"s"}}}
]}
]
}
